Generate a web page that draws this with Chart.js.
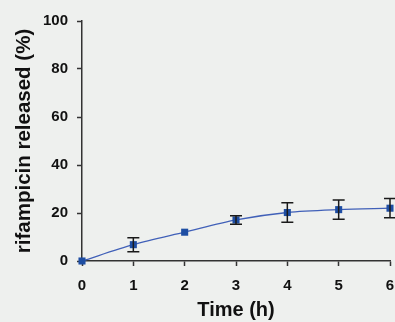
<!DOCTYPE html>
<html>
<head>
<meta charset="utf-8">
<script src="https://cdn.jsdelivr.net/npm/chart.js@4.4.1/dist/chart.umd.min.js"></script>
<style>
  html, body { margin: 0; padding: 0; background: #eef0ee; }
  #wrap { width: 395px; height: 322px; }
</style>
</head>
<body>
<div id="wrap"><canvas id="c" width="395" height="322"></canvas></div>
<script>
const timeHours = [0, 1, 2, 3, 4, 5, 6];
const releasedPct = [0, 6.8, 12, 17.1, 20.2, 21.4, 22];
const errorPct = [0, 2.9, 0, 1.8, 4.1, 4, 4];
const yTicks = [0, 20, 40, 60, 80, 100];
const xTitle = 'Time (h)';
const yTitle = 'rifampicin released (%)';

const fontFamily = 'Liberation Sans, Arial, sans-serif';

const bgPlugin = {
  id: 'bg',
  beforeDraw(chart) {
    const ctx = chart.ctx;
    ctx.save();
    ctx.fillStyle = '#eef0ee';
    ctx.fillRect(0, 0, chart.width, chart.height);
    ctx.restore();
  }
};

const errorBarPlugin = {
  id: 'errorBars',
  afterDatasetsDraw(chart) {
    const ctx = chart.ctx;
    const xs = chart.scales.x, ys = chart.scales.y;
    ctx.save();
    ctx.strokeStyle = '#1a1a1a';
    ctx.lineWidth = 1.5;
    timeHours.forEach((t, i) => {
      const e = errorPct[i];
      if (!e) return;
      const px = xs.getPixelForValue(t);
      const pTop = ys.getPixelForValue(releasedPct[i] + e);
      const pBot = ys.getPixelForValue(releasedPct[i] - e);
      const cap = 6;
      ctx.beginPath();
      ctx.moveTo(px, pTop); ctx.lineTo(px, pBot);
      ctx.moveTo(px - cap, pTop); ctx.lineTo(px + cap, pTop);
      ctx.moveTo(px - cap, pBot); ctx.lineTo(px + cap, pBot);
      ctx.stroke();
    });
    ctx.restore();
  }
};

new Chart(document.getElementById('c'), {
  type: 'line',
  data: {
    datasets: [{
      data: timeHours.map((t, i) => ({ x: t, y: releasedPct[i] })),
      borderColor: '#4060b8',
      borderWidth: 1.3,
      backgroundColor: '#1e4ea3',
      pointBackgroundColor: '#1e4ea3',
      pointBorderColor: '#1e4ea3',
      pointBorderWidth: 0,
      pointStyle: 'rect',
      pointRadius: 5,
      tension: 0.3,
      clip: false
    }]
  },
  options: {
    responsive: false,
    animation: false,
    events: [],
    layout: { padding: { top: 21, right: 4, left: 0, bottom: 0 } },
    plugins: { legend: { display: false }, tooltip: { enabled: false } },
    scales: {
      x: {
        type: 'linear',
        min: 0, max: 6,
        afterFit(s) { s.height = 61; s.paddingRight = 0; s.paddingLeft = 0; },
        afterBuildTicks(s) { s.ticks = timeHours.map(v => ({ value: v })); },
        border: { display: true, color: '#333', width: 1.5 },
        grid: { display: true, drawOnChartArea: false, drawTicks: true, tickLength: 5, tickColor: '#333', tickWidth: 1.5 },
        ticks: { color: '#111', padding: 11, font: { family: fontFamily, size: 15, weight: 'bold' } },
        title: { display: true, text: xTitle, color: '#111', padding: { top: 0, bottom: 0 }, font: { family: fontFamily, size: 20, weight: 'bold' } }
      },
      y: {
        type: 'linear',
        min: 0, max: 100,
        afterFit(s) { s.width = 82; },
        afterBuildTicks(s) { s.ticks = yTicks.map(v => ({ value: v })); },
        border: { display: true, color: '#333', width: 1.5 },
        grid: { display: true, drawOnChartArea: false, drawTicks: true, tickLength: 5, tickColor: '#333', tickWidth: 1.5 },
        ticks: { color: '#111', padding: 9, font: { family: fontFamily, size: 15, weight: 'bold' } },
        title: { display: true, text: yTitle, color: '#111', padding: { top: 12, bottom: 0 }, font: { family: fontFamily, size: 20.5, weight: 'bold' } }
      }
    }
  },
  plugins: [bgPlugin, errorBarPlugin]
});
</script>
</body>
</html>
